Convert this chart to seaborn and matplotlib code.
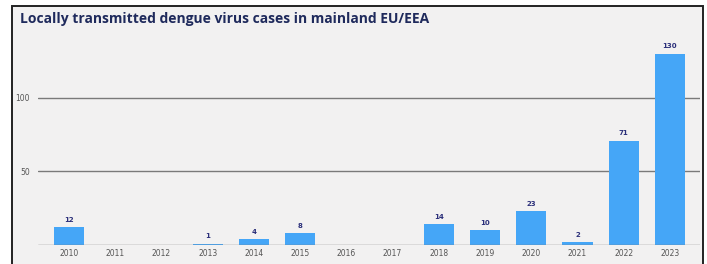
import numpy as np
import pandas as pd
import matplotlib.pyplot as plt
from matplotlib.patches import Rectangle
import seaborn as sns

# Locally transmitted dengue cases per year
years = ['2010', '2011', '2012', '2013', '2014', '2015', '2016',
         '2017', '2018', '2019', '2020', '2021', '2022', '2023']
cases = [12, 0, 0, 1, 4, 8, 0, 0, 14, 10, 23, 2, 71, 130]
y_ticks = [50, 100]

df = pd.DataFrame({'year': years, 'cases': cases})

sns.set_theme(style="white")
plt.rcParams['font.family'] = ['DejaVu Sans']

fig = plt.figure(figsize=(7.07, 2.64), dpi=100)
fig.patch.set_facecolor('white')

# framed panel behind the axes
frame = Rectangle((12 / 707, -0.2), (703 - 12) / 707, 1.2 - 6 / 264,
                  transform=fig.transFigure, facecolor='#f2f1f1',
                  edgecolor='#222222', linewidth=1.4, zorder=-5)
fig.patches.append(frame)

ax = fig.add_axes([38 / 707, 1 - 245 / 264, (700 - 38) / 707, (245 - 39) / 264])
ax.set_facecolor('none')
ax.set_zorder(1)

sns.barplot(data=df, x='year', y='cases', color='#45a6f7', width=0.65,
            saturation=1, linewidth=0, ax=ax, zorder=3)

for i, v in enumerate(cases):
    if v > 0:
        ax.text(i, v + 3, str(v), ha='center', va='bottom', fontsize=5,
                color='#2b2f7a', fontweight='bold')

ax.set_xlim(-0.67, 13.65)
ax.set_ylim(0, 140)
ax.set_yticks(y_ticks)
ax.set_yticklabels([str(t) for t in y_ticks])
for t in y_ticks:
    ax.axhline(t, color='#7a7a7a', linewidth=1.0, zorder=1)
ax.axhline(0, color='#7e7e7e', linewidth=1.0, zorder=4)

ax.tick_params(axis='both', length=0, labelsize=5.5, labelcolor='#555555', pad=3)
ax.tick_params(axis='y', pad=6)
ax.set_xlabel('')
ax.set_ylabel('')
for s in ax.spines.values():
    s.set_visible(False)

fig.text(20 / 707, 1 - 19 / 264, 'Locally transmitted dengue virus cases in mainland EU/EEA',
         fontsize=10, fontweight='bold', color='#1f2a5c', va='center', ha='left',
         family=['Open Sans', 'DejaVu Sans'])

fig.savefig('out.png', dpi=100, facecolor='white')
